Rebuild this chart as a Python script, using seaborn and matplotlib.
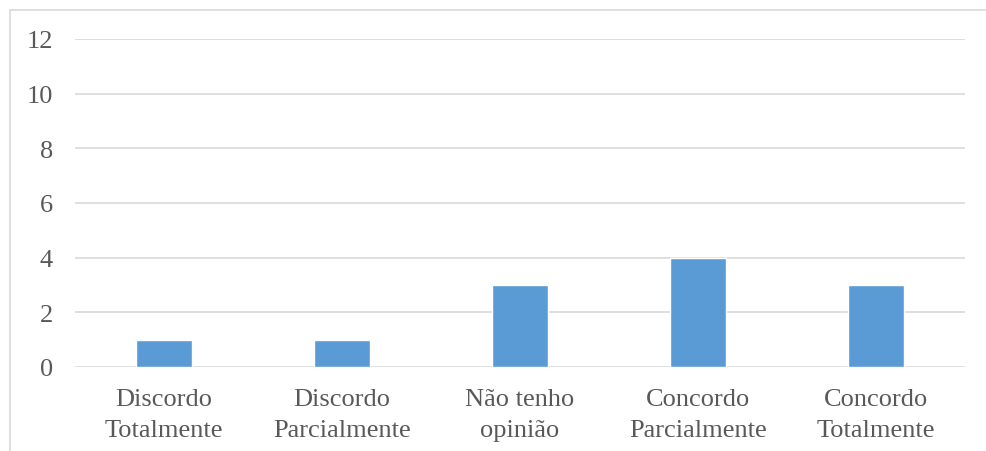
import matplotlib.pyplot as plt
import seaborn as sns
from matplotlib.lines import Line2D

# Data
categorias = ['Discordo\nTotalmente', 'Discordo\nParcialmente', 'Não tenho\nopinião',
              'Concordo\nParcialmente', 'Concordo\nTotalmente']
valores = [1, 1, 3, 4, 3]
yticks = [0, 2, 4, 6, 8, 10, 12]

W, H = 986, 452
sns.set_style('white')
plt.rcParams['font.family'] = ['Liberation Serif', 'DejaVu Serif']

fig = plt.figure(figsize=(W / 100, H / 100), dpi=100)
ax = fig.add_axes([75 / W, 1 - 368 / H, (965 - 75) / W, (368 - 40) / H])

sns.barplot(x=categorias, y=valores, color='#5b9bd5', saturation=1, width=0.31, ax=ax, zorder=3)

ax.set_ylim(0, 12)
ax.set_yticks(yticks)
ax.yaxis.grid(True, color='#d9d9d9', linewidth=1.2, zorder=0)
ax.set_axisbelow(True)
for s in ax.spines.values():
    s.set_visible(False)
ax.tick_params(axis='both', length=0, labelsize=19, colors='#595959')
ax.tick_params(axis='y', pad=16)
ax.tick_params(axis='x', pad=15)
for lbl in ax.get_xticklabels():
    lbl.set_linespacing(1.55)
ax.set_xlabel('')
ax.set_ylabel('')

# chart frame (left and top edges visible)
fig.add_artist(Line2D([9.5 / W, 9.5 / W], [0, 1 - 10.5 / H], transform=fig.transFigure,
                      color='#d9d9d9', linewidth=1.2))
fig.add_artist(Line2D([9.5 / W, 1], [1 - 10.5 / H, 1 - 10.5 / H], transform=fig.transFigure,
                      color='#d9d9d9', linewidth=1.2))

plt.savefig('out.png', dpi=100)
